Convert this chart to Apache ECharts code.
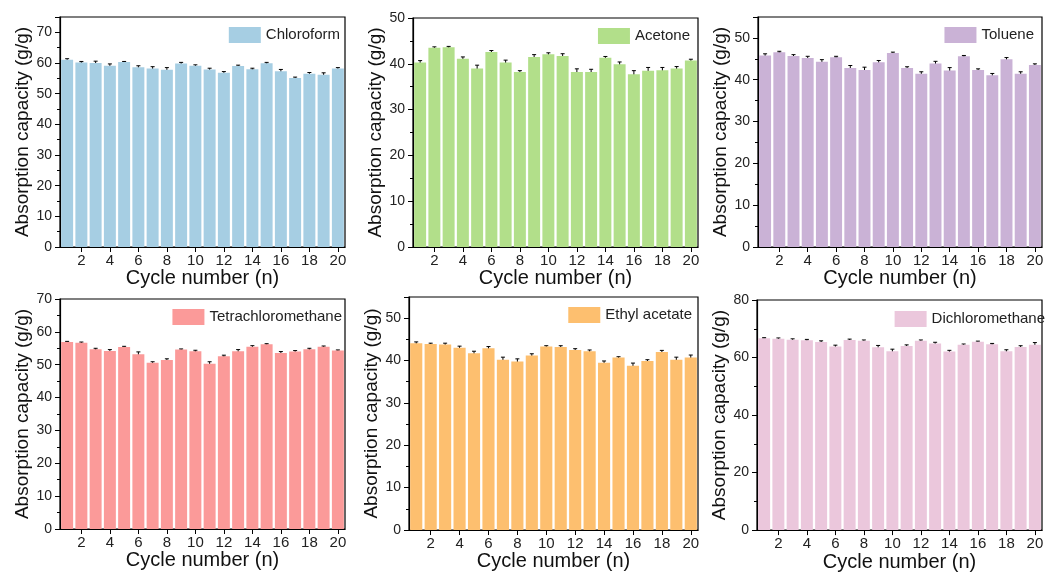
<!DOCTYPE html>
<html><head><meta charset="utf-8">
<script src="https://cdn.jsdelivr.net/npm/echarts@6/dist/echarts.min.js"></script>
<style>html,body{margin:0;padding:0;background:#fff}#c{width:1047px;height:573px}</style>
</head><body><div id="c"></div>
<script>
const cycles = ['1','2','3','4','5','6','7','8','9','10','11','12','13','14','15','16','17','18','19','20'];
const chloroform = [61.1,60.2,60.0,59.1,60.3,58.6,58.2,57.8,59.8,59.1,57.9,56.8,59.0,58.0,59.9,57.3,55.1,56.5,56.2,58.2];
const chloroformErr = [0.3,0.3,0.6,0.6,0.2,0.5,0.6,0.7,0.4,0.3,0.4,0.4,0.3,0.3,0.3,0.6,0.3,0.4,0.6,0.3];
const acetone = [40.3,43.5,43.6,41.1,39.0,42.6,40.3,38.2,41.5,42.1,41.7,38.2,38.2,41.3,39.9,37.7,38.5,38.6,39.0,40.7];
const acetoneErr = [0.4,0.2,0.2,0.4,0.7,0.3,0.5,0.3,0.5,0.3,0.5,0.7,0.6,0.3,0.5,0.8,0.7,0.6,0.4,0.3];
const toluene = [45.8,46.6,45.7,45.2,44.3,45.4,42.8,42.3,44.2,46.4,42.8,41.4,43.9,42.2,45.6,42.3,41.1,44.9,41.4,43.5];
const tolueneErr = [0.4,0.2,0.3,0.4,0.5,0.2,0.6,0.7,0.4,0.2,0.3,0.5,0.5,0.7,0.2,0.3,0.4,0.4,0.5,0.3];
const tetrachloromethane = [56.9,56.7,54.7,54.2,55.4,53.2,50.6,51.4,54.6,54.1,50.3,52.6,54.1,55.5,56.2,53.6,54.0,54.7,55.5,54.3];
const tetrachloromethaneErr = [0.2,0.2,0.3,0.4,0.2,0.7,0.3,0.4,0.2,0.3,0.6,0.3,0.5,0.3,0.2,0.4,0.3,0.3,0.2,0.2];
const ethylAcetate = [44.1,43.9,43.8,43.0,41.7,42.9,40.2,39.8,41.2,43.3,43.2,42.5,42.2,39.5,40.7,38.8,39.9,42.0,40.2,40.7];
const ethylAcetateErr = [0.3,0.2,0.3,0.4,0.5,0.4,0.6,0.6,0.4,0.2,0.3,0.3,0.3,0.4,0.2,0.6,0.3,0.4,0.6,0.6];
const dichloromethane = [66.7,66.5,66.2,66.0,65.4,63.8,66.1,65.8,63.6,62.2,64.0,65.8,64.9,62.1,64.4,65.5,64.6,62.2,63.7,64.4];
const dichloromethaneErr = [0.2,0.3,0.3,0.3,0.4,0.5,0.3,0.3,0.6,0.7,0.4,0.3,0.4,0.4,0.3,0.2,0.3,0.5,0.4,0.8];
const xAxisName = 'Cycle number (n)';
const yAxisName = 'Absorption capacity (g/g)';

const panels = [
  {name:'Chloroform', vals:chloroform, err:chloroformErr, color:'#a6cee3', ymax:75, step:10,
   grid:{left:60, top:17, width:285, height:230}, legendRight:707, legendTop:27, yGap:27},
  {name:'Acetone', vals:acetone, err:acetoneErr, color:'#b2df8a', ymax:50, step:10,
   grid:{left:413, top:18, width:285, height:229}, legendRight:357, legendTop:28, yGap:27},
  {name:'Toluene', vals:toluene, err:tolueneErr, color:'#cab2d6', ymax:55, step:10,
   grid:{left:758, top:17, width:284, height:230}, legendRight:13, legendTop:27, yGap:27},
  {name:'Tetrachloromethane', vals:tetrachloromethane, err:tetrachloromethaneErr, color:'#fb9a99', ymax:70, step:10,
   grid:{left:60, top:299, width:285, height:230}, legendRight:705, legendTop:309, yGap:27},
  {name:'Ethyl acetate', vals:ethylAcetate, err:ethylAcetateErr, color:'#fdbf6f', ymax:55, step:10,
   grid:{left:409, top:297, width:289, height:233}, legendRight:355, legendTop:307, yGap:28},
  {name:'Dichloromethane', vals:dichloromethane, err:dichloromethaneErr, color:'#ebc7dc', ymax:80, step:20,
   grid:{left:757, top:300, width:285, height:231}, legendRight:2, legendTop:311, yGap:23}
];

const FONT = 'Liberation Sans, Arial, sans-serif';
const grids=[], xAxes=[], yAxes=[], series=[], legends=[];
panels.forEach((p,i)=>{
  grids.push(Object.assign({show:true, borderColor:'#000', borderWidth:1.2, backgroundColor:'transparent'}, p.grid));
  xAxes.push({type:'category', gridIndex:i, data:cycles,
    name:xAxisName, nameLocation:'middle', nameGap:21,
    nameTextStyle:{fontSize:20, color:'#111', fontFamily:FONT},
    axisLine:{lineStyle:{color:'#000', width:1.2}},
    axisTick:{show:true, alignWithLabel:true, interval:(idx)=>idx%2===1, length:5, lineStyle:{color:'#000'}},
    axisLabel:{interval:(idx)=>idx%2===1, fontSize:15, color:'#222', margin:6, fontFamily:FONT},
    splitLine:{show:false}});
  yAxes.push({type:'value', gridIndex:i, min:0, max:p.ymax, interval:p.step,
    name:yAxisName, nameLocation:'middle', nameGap:p.yGap,
    nameTextStyle:{fontSize:19, color:'#111', fontFamily:FONT},
    axisLine:{show:true, lineStyle:{color:'#000', width:1.2}},
    axisTick:{show:true, length:5, lineStyle:{color:'#000'}},
    minorTick:{show:true, splitNumber:2, length:3, lineStyle:{color:'#000'}},
    axisLabel:{fontSize:14, color:'#222', margin:8, fontFamily:FONT,
      formatter:(v)=> (v % p.step === 0 ? String(v) : '')},
    splitLine:{show:false}});
  series.push({type:'bar', name:p.name, xAxisIndex:i, yAxisIndex:i, data:p.vals,
    barCategoryGap:'16%', itemStyle:{color:p.color}, silent:true, animation:false});
  series.push({type:'custom', xAxisIndex:i, yAxisIndex:i, silent:true, animation:false,
    data:p.vals.map((v,k)=>[k, v, p.err[k]]),
    encode:{x:0, y:1},
    renderItem:(params, api)=>{
      const x = api.value(0), v = api.value(1), e = api.value(2);
      const lo = api.coord([x, v-e]), hi = api.coord([x, v+e]);
      const cw = 2;
      const st = {stroke:'#000', lineWidth:1};
      return {type:'group', children:[
        {type:'line', shape:{x1:lo[0], y1:lo[1], x2:hi[0], y2:hi[1]}, style:st},
        {type:'line', shape:{x1:lo[0]-cw, y1:lo[1], x2:lo[0]+cw, y2:lo[1]}, style:st},
        {type:'line', shape:{x1:hi[0]-cw, y1:hi[1], x2:hi[0]+cw, y2:hi[1]}, style:st}
      ]};
    }});
  legends.push({data:[p.name], right:p.legendRight, top:p.legendTop, orient:'vertical', padding:0,
    itemWidth:32, itemHeight:16, icon:'rect', selectedMode:false,
    textStyle:{fontSize:15, color:'#222', fontFamily:FONT}});
});

const chart = echarts.init(document.getElementById('c'), null, {renderer:'canvas'});
chart.setOption({backgroundColor:'#fff', animation:false, grid:grids, xAxis:xAxes, yAxis:yAxes, series:series, legend:legends});
</script></body></html>
